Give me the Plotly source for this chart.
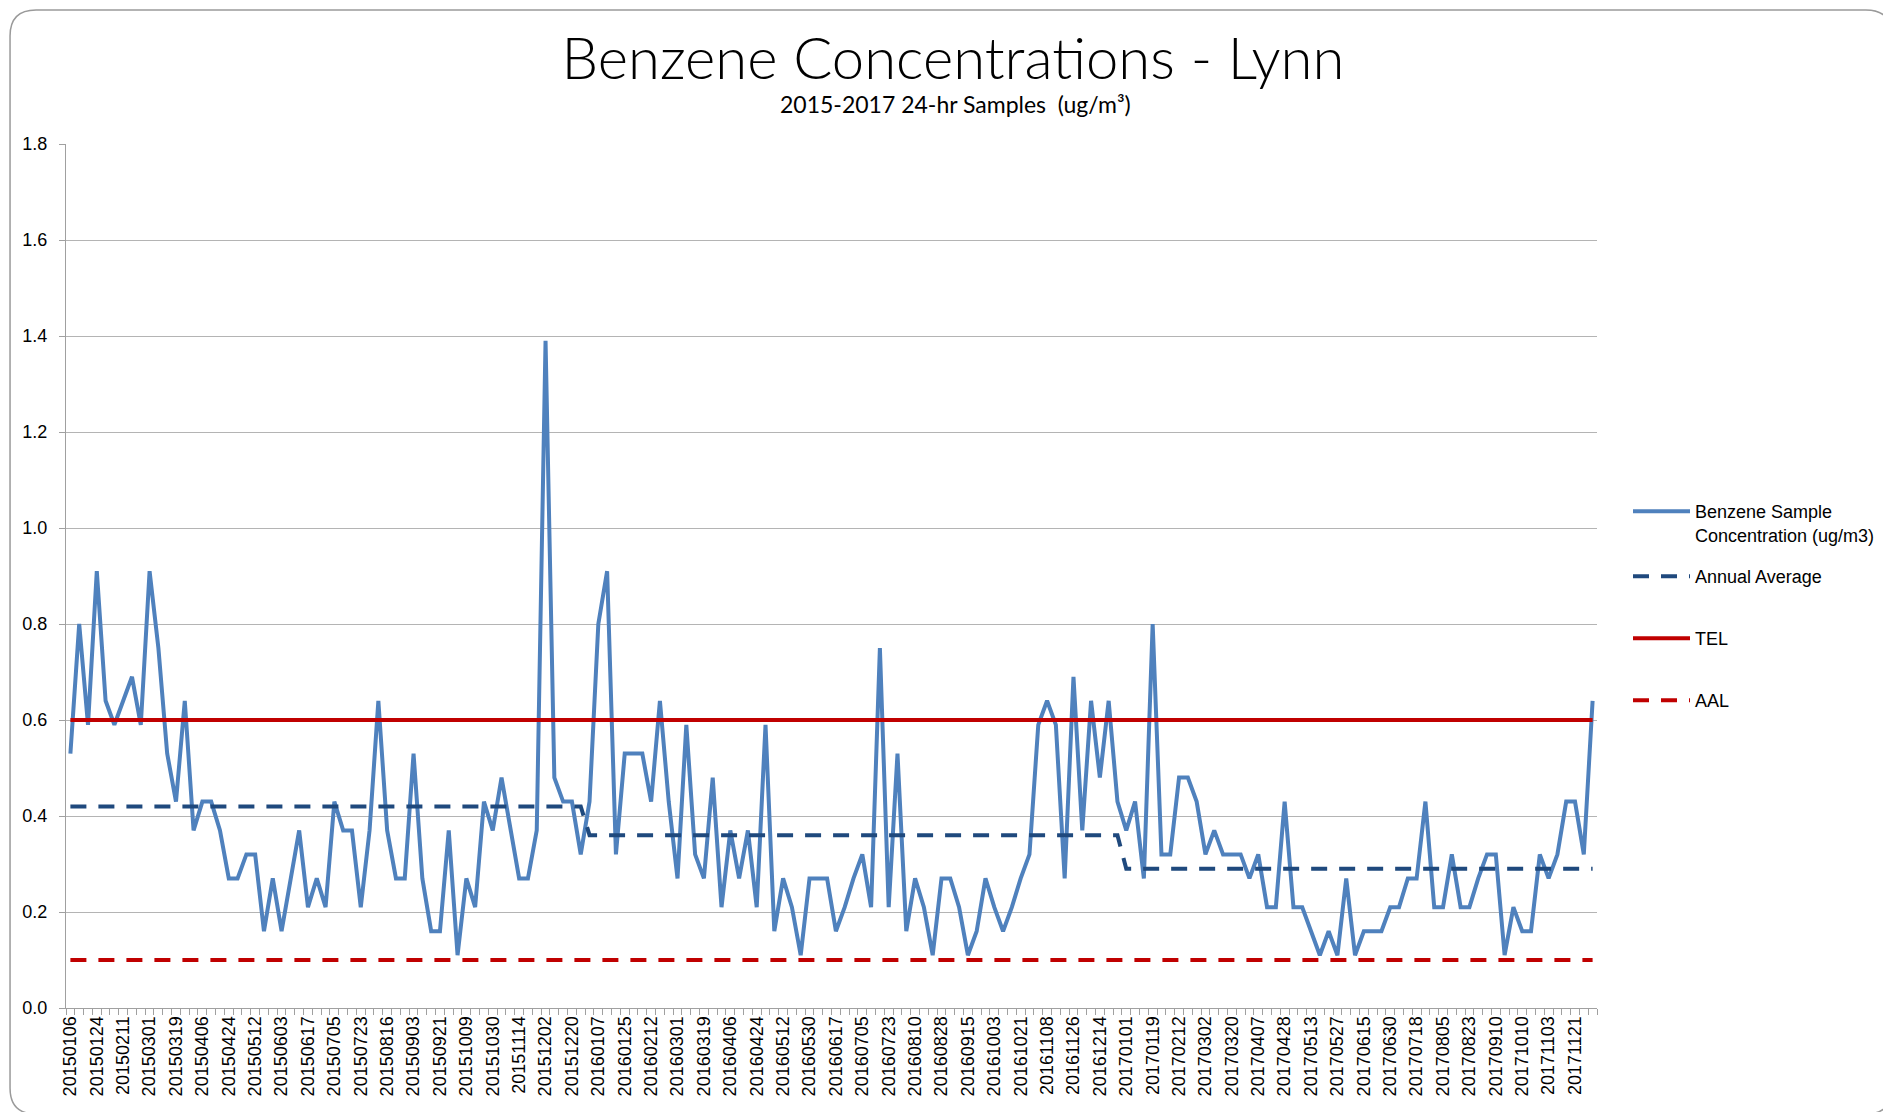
import plotly.graph_objects as go

# ---------------- data ----------------
dates = [
    "20150106", "20150112", "20150118", "20150124", "20150130", "20150205", "20150211", "20150217",
    "20150223", "20150301", "20150307", "20150313", "20150319", "20150325", "20150331", "20150406",
    "20150412", "20150418", "20150424", "20150430", "20150506", "20150512", "20150518", "20150524",
    "20150603", "20150605", "20150611", "20150617", "20150623", "20150629", "20150705", "20150711",
    "20150717", "20150723", "20150729", "20150804", "20150816", "20150822", "20150828", "20150903",
    "20150909", "20150915", "20150921", "20150927", "20151003", "20151009", "20151015", "20151021",
    "20151030", "20151102", "20151108", "20151114", "20151120", "20151126", "20151202", "20151208",
    "20151214", "20151220", "20151226",
    "20160101", "20160107", "20160113", "20160119", "20160125", "20160131", "20160206", "20160212",
    "20160218", "20160224", "20160301", "20160307", "20160313", "20160319", "20160325", "20160331",
    "20160406", "20160412", "20160418", "20160424", "20160430", "20160506", "20160512", "20160518",
    "20160524", "20160530", "20160605", "20160611", "20160617", "20160623", "20160629", "20160705",
    "20160711", "20160717", "20160723", "20160729", "20160804", "20160810", "20160816", "20160822",
    "20160828", "20160903", "20160909", "20160915", "20160921", "20160927", "20161003", "20161009",
    "20161015", "20161021", "20161027", "20161102", "20161108", "20161114", "20161120", "20161126",
    "20161202", "20161208", "20161214", "20161220", "20161226",
    "20170101", "20170107", "20170113", "20170119", "20170125", "20170131", "20170212", "20170218",
    "20170224", "20170302", "20170308", "20170314", "20170320", "20170326", "20170401", "20170407",
    "20170413", "20170419", "20170428", "20170501", "20170507", "20170513", "20170519", "20170525",
    "20170527", "20170531", "20170606", "20170615", "20170618", "20170624", "20170630", "20170706",
    "20170712", "20170718", "20170724", "20170730", "20170805", "20170811", "20170817", "20170823",
    "20170829", "20170904", "20170910", "20170916", "20170928", "20171010", "20171016", "20171022",
    "20171103", "20171109", "20171115", "20171121", "20171127", "20171203",
]

benzene = [
    0.53, 0.80, 0.59, 0.91, 0.64, 0.59, 0.64, 0.69, 0.59, 0.91, 0.75, 0.53, 0.43, 0.64, 0.37, 0.43,
    0.43, 0.37, 0.27, 0.27, 0.32, 0.32, 0.16, 0.27, 0.16, 0.27, 0.37, 0.21, 0.27, 0.21, 0.43, 0.37,
    0.37, 0.21, 0.37, 0.64, 0.37, 0.27, 0.27, 0.53, 0.27, 0.16, 0.16, 0.37, 0.11, 0.27, 0.21, 0.43,
    0.37, 0.48, 0.37, 0.27, 0.27, 0.37, 1.39, 0.48, 0.43, 0.43, 0.32,
    0.43, 0.80, 0.91, 0.32, 0.53, 0.53, 0.53, 0.43, 0.64, 0.43, 0.27, 0.59, 0.32, 0.27, 0.48, 0.21,
    0.37, 0.27, 0.37, 0.21, 0.59, 0.16, 0.27, 0.21, 0.11, 0.27, 0.27, 0.27, 0.16, 0.21, 0.27, 0.32,
    0.21, 0.75, 0.21, 0.53, 0.16, 0.27, 0.21, 0.11, 0.27, 0.27, 0.21, 0.11, 0.16, 0.27, 0.21, 0.16,
    0.21, 0.27, 0.32, 0.59, 0.64, 0.59, 0.27, 0.69, 0.37, 0.64, 0.48, 0.64, 0.43,
    0.37, 0.43, 0.27, 0.80, 0.32, 0.32, 0.48, 0.48, 0.43, 0.32, 0.37, 0.32, 0.32, 0.32, 0.27, 0.32,
    0.21, 0.21, 0.43, 0.21, 0.21, 0.16, 0.11, 0.16, 0.11, 0.27, 0.11, 0.16, 0.16, 0.16, 0.21, 0.21,
    0.27, 0.27, 0.43, 0.21, 0.21, 0.32, 0.21, 0.21, 0.27, 0.32, 0.32, 0.11, 0.21, 0.16, 0.16, 0.32,
    0.27, 0.32, 0.43, 0.43, 0.32, 0.64,
]

annual_average_by_year = {"2015": 0.42, "2016": 0.36, "2017": 0.29}
tel_value = 0.6
aal_value = 0.1

annual_average = [annual_average_by_year[d[:4]] for d in dates]
tel = [tel_value for _ in dates]
aal = [aal_value for _ in dates]
tick_text = [d if i % 3 == 0 else "" for i, d in enumerate(dates)]

# ---------------- figure ----------------
# page has an 8px body margin, so the figure is sized/positioned accordingly
W, H = 1883, 1104
ML, MR, MT, MB = 58, 293, 136, 104
PW, PH = W - ML - MR, H - MT - MB

BLUE = "#4F81BD"
DARKBLUE = "#1F497D"
RED = "#C00000"
LW = 4
DASH = "16px,12px"
LEG_FONT = dict(family="Liberation Sans, Arial, sans-serif", size=18, color="#000000")


def px_x(px):
    return (px - ML) / PW


def px_y(py):
    return (H - MB - py) / PH


fig = go.Figure()
fig.add_trace(go.Scatter(x=dates, y=benzene, mode="lines",
                         name="Benzene Sample<br>Concentration (ug/m3)",
                         line=dict(color=BLUE, width=LW), legend="legend"))
fig.add_trace(go.Scatter(x=dates, y=annual_average, mode="lines", name="Annual Average",
                         line=dict(color=DARKBLUE, width=LW, dash=DASH), legend="legend2"))
fig.add_trace(go.Scatter(x=dates, y=tel, mode="lines", name="TEL",
                         line=dict(color=RED, width=LW), legend="legend3"))
fig.add_trace(go.Scatter(x=dates, y=aal, mode="lines", name="AAL",
                         line=dict(color=RED, width=LW, dash=DASH), legend="legend4"))

# rounded chart border (right and bottom edges sit just past the canvas)
bx0, bx1, by0, by1, rad = 2, 1885, 2, 1106, 26
rx, ry = rad / PW, rad / PH
X0, X1, YT, YB = px_x(bx0), px_x(bx1), px_y(by0), px_y(by1)
path = (f"M {X0 + rx},{YT} L {X1 - rx},{YT} Q {X1},{YT} {X1},{YT - ry} "
        f"L {X1},{YB + ry} Q {X1},{YB} {X1 - rx},{YB} "
        f"L {X0 + rx},{YB} Q {X0},{YB} {X0},{YB + ry} "
        f"L {X0},{YT - ry} Q {X0},{YT} {X0 + rx},{YT} Z")
fig.add_shape(type="path", path=path, xref="paper", yref="paper",
              line=dict(color="#9A9A9A", width=1.5), layer="below")

fig.add_annotation(text="2015-2017 24-hr Samples  (ug/m³)", xref="paper", yref="paper",
                   x=px_x(948), y=px_y(96), showarrow=False,
                   font=dict(family="Lato, Liberation Sans, sans-serif", size=23,
                             color="#000000", weight=400),
                   xanchor="center", yanchor="middle")


def legend_at(top_px):
    return dict(x=px_x(1620), y=px_y(top_px), xanchor="left", yanchor="top",
                font=LEG_FONT, valign="top", itemwidth=57, bgcolor="rgba(0,0,0,0)")


fig.update_layout(
    width=W, height=H,
    margin=dict(l=ML, r=MR, t=MT, b=MB),
    paper_bgcolor="white", plot_bgcolor="white",
    title=dict(text="Benzene Concentrations - Lynn", x=945 / W, xanchor="center",
               y=1 - 51 / H, yanchor="middle",
               font=dict(family="Lato, Liberation Sans, sans-serif", size=58,
                         color="#000000", weight=300)),
    font=dict(family="Liberation Sans, Arial, sans-serif", size=18, color="#000000"),
    showlegend=True,
    legend=legend_at(485),
    legend2=legend_at(550),
    legend3=legend_at(612),
    legend4=legend_at(674),
    xaxis=dict(type="category", range=[-0.5, len(dates) - 0.5],
               tickmode="array", tickvals=dates, ticktext=tick_text,
               tickangle=-90, tickson="boundaries", ticks="outside", ticklen=6,
               tickcolor="#A0A0A0", showgrid=False, showline=True, linecolor="#A0A0A0",
               linewidth=1.2, tickfont=dict(size=18), zeroline=False),
    yaxis=dict(range=[0, 1.8], dtick=0.2, tickformat=".1f", ticks="outside", ticklen=6,
               tickcolor="#A0A0A0", showgrid=True, gridcolor="#B4B4B4", gridwidth=1,
               showline=True, linecolor="#A0A0A0", linewidth=1.2, zeroline=False,
               tickfont=dict(size=18), ticklabelstandoff=8),
)

fig.write_html("out.html")
